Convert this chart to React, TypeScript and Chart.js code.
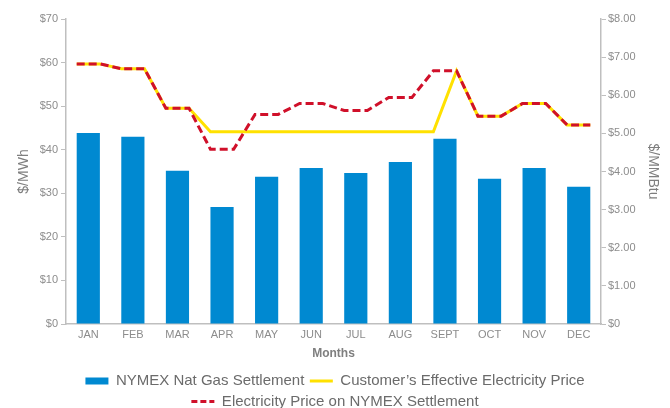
import React, { useEffect, useRef } from 'react';
import { Chart, registerables } from 'chart.js';

Chart.register(...registerables);

const months = ['JAN', 'FEB', 'MAR', 'APR', 'MAY', 'JUN', 'JUL', 'AUG', 'SEPT', 'OCT', 'NOV', 'DEC'];
// $/MMBtu (right axis)
const natGasSettlement = [5.01, 4.91, 4.02, 3.07, 3.86, 4.09, 3.96, 4.25, 4.86, 3.81, 4.09, 3.6];
// $/MWh (left axis)
const electricityNymex = [59.7, 58.6, 49.5, 40.1, 48.1, 50.6, 49.0, 52.0, 58.1, 47.7, 50.6, 45.7];
// customer's effective price at the start and the end of each month
const customerPriceStart = [59.7, 58.6, 49.5, 44.1, 44.1, 44.1, 44.1, 44.1, 44.1, 47.7, 50.6, 45.7];
const customerPriceEnd = [59.7, 58.6, 49.5, 44.1, 44.1, 44.1, 44.1, 44.1, 58.1, 47.7, 50.6, 45.7];

const leftAxis = { min: 0, max: 70, step: 10 };
const rightAxis = { min: 0, max: 8, step: 1 };

const seriesLabels = [
  'NYMEX Nat Gas Settlement',
  'Customer\u2019s Effective Electricity Price',
  'Electricity Price on NYMEX Settlement',
];

const BLUE = '#0089D1';
const YELLOW = '#FFE100';
const RED = '#D0102A';
const AXIS = '#BFBFBF';
const TICK = '#8C8C8C';
const FONT = "'Liberation Sans', Arial, Helvetica, sans-serif";
const HALF = 0.26;

const plateau = (start: number[], end: number[]) =>
  start.flatMap((v, i) => [
    { x: i - HALF, y: v },
    { x: i + HALF, y: end[i] },
  ]);

export default function App() {
  const ref = useRef<HTMLCanvasElement | null>(null);

  useEffect(() => {
    document.body.style.margin = '0';
    const canvas = ref.current;
    if (!canvas) return;
    const chart = new Chart(canvas, {
      type: 'bar',
      data: {
        datasets: [
          {
            type: 'bar',
            label: seriesLabels[0],
            data: natGasSettlement.map((v, i) => ({ x: i, y: v })),
            yAxisID: 'y1',
            backgroundColor: BLUE,
            borderWidth: 0,
            barPercentage: 0.52,
            categoryPercentage: 1,
            order: 3,
          },
          {
            type: 'line',
            label: seriesLabels[1],
            data: plateau(customerPriceStart, customerPriceEnd),
            yAxisID: 'y',
            borderColor: YELLOW,
            backgroundColor: YELLOW,
            borderWidth: 3,
            pointRadius: 0,
            tension: 0,
            fill: false,
            order: 2,
          },
          {
            type: 'line',
            label: seriesLabels[2],
            data: plateau(electricityNymex, electricityNymex),
            yAxisID: 'y',
            borderColor: RED,
            backgroundColor: RED,
            borderWidth: 3,
            borderDash: [8, 4],
            pointRadius: 0,
            tension: 0,
            fill: false,
            order: 1,
          },
        ] as any,
      },
      options: {
        animation: false,
        responsive: true,
        maintainAspectRatio: false,
        layout: { padding: { top: 19, bottom: -11, left: 0, right: 0 } },
        font: { family: FONT },
        scales: {
          x: {
            type: 'linear',
            min: -0.5,
            max: months.length - 0.5,
            offset: false,
            afterBuildTicks: (s: any) => {
              s.ticks = months.map((_, i) => ({ value: i }));
            },
            afterFit: (s: any) => {
              s.height = 44;
            },
            ticks: {
              callback: (v: any) => months[v] ?? '',
              autoSkip: false,
              maxRotation: 0,
              padding: 4,
              color: TICK,
              font: { family: FONT, size: 11 },
            },
            grid: { display: false, drawTicks: false, tickLength: 0 },
            border: { display: true, color: AXIS, width: 1.5 },
            title: {
              display: true,
              text: 'Months',
              color: '#7F7F7F',
              font: { family: FONT, size: 12, weight: 'bold' },
              padding: { top: 0, bottom: 7 },
            },
          },
          y: {
            type: 'linear',
            position: 'left',
            min: leftAxis.min,
            max: leftAxis.max,
            afterFit: (s: any) => {
              s.width = 66;
            },
            ticks: {
              stepSize: leftAxis.step,
              callback: (v: any) => '$' + v,
              padding: 3,
              color: TICK,
              font: { family: FONT, size: 11 },
            },
            grid: { drawOnChartArea: false, drawTicks: true, tickLength: 5, color: AXIS, lineWidth: 1 },
            border: { display: true, color: AXIS, width: 1.5 },
            title: {
              display: true,
              text: '$/MWh',
              color: '#7F7F7F',
              font: { family: FONT, size: 14 },
              padding: { top: 15.6, bottom: 0 },
            },
          },
          y1: {
            type: 'linear',
            position: 'right',
            min: rightAxis.min,
            max: rightAxis.max,
            afterFit: (s: any) => {
              s.width = 69;
            },
            ticks: {
              stepSize: rightAxis.step,
              callback: (v: any) => (v === 0 ? '$0' : '$' + Number(v).toFixed(2)),
              padding: 2,
              color: TICK,
              font: { family: FONT, size: 11 },
            },
            grid: { drawOnChartArea: false, drawTicks: true, tickLength: 5, color: AXIS, lineWidth: 1 },
            border: { display: true, color: AXIS, width: 1.5 },
            title: {
              display: true,
              text: '$/MMBtu',
              color: '#7F7F7F',
              font: { family: FONT, size: 14 },
              padding: { top: 8.9, bottom: 0 },
            },
          },
        },
        plugins: {
          tooltip: { enabled: false },
          legend: {
            position: 'bottom',
            labels: {
              usePointStyle: true,
              pointStyleWidth: 23,
              boxHeight: 7,
              padding: 5.5,
              color: '#6B6B6B',
              font: { family: FONT, size: 15 },
              generateLabels: (c: any) =>
                c.data.datasets.map((ds: any, i: number) => ({
                  text: ds.label,
                  datasetIndex: i,
                  hidden: false,
                  fillStyle: ds.type === 'bar' ? ds.backgroundColor : 'rgba(0,0,0,0)',
                  strokeStyle: ds.type === 'bar' ? ds.backgroundColor : ds.borderColor,
                  lineWidth: ds.type === 'bar' ? 0 : 3,
                  lineDash: ds.borderDash ? [6, 3] : [],
                  pointStyle: ds.type === 'bar' ? 'rect' : 'line',
                  fontColor: '#6B6B6B',
                })),
            },
          },
        },
      } as any,
    });
    return () => chart.destroy();
  }, []);

  return (
    <div style={{ position: 'relative', width: 670, height: 408 }}>
      <canvas ref={ref} />
    </div>
  );
}
